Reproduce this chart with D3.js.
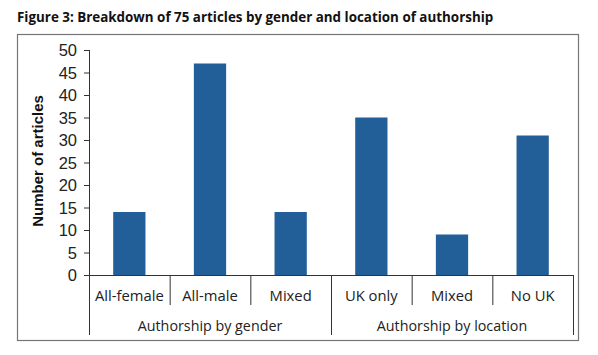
<!DOCTYPE html>
<html><head><meta charset="utf-8">
<script src="https://cdn.jsdelivr.net/npm/d3@7/dist/d3.min.js"></script>
<style>body{margin:0;background:#fff}svg{display:block}</style>
</head><body>
<script>
const categories = ["All-female","All-male","Mixed","UK only","Mixed","No UK"];
const groups = ["Authorship by gender","Authorship by location"];
const groupOf = [0,0,0,1,1,1];
const values = [14,47,14,35,9,31];
const yTicks = [0,5,10,15,20,25,30,35,40,45,50];
const title = "Figure 3: Breakdown of 75 articles by gender and location of authorship";
const yTitle = "Number of articles";

const W=598,H=355;
const svg=d3.select("body").append("svg").attr("width",W).attr("height",H);
const font="'Liberation Sans', Arial, sans-serif";

svg.append("text").attr("x",17).attr("y",22).attr("font-family","'Open Sans', sans-serif")
  .attr("font-weight","bold").attr("font-size",13.4).attr("fill","#111").text(title);

svg.append("rect").attr("x",17.5).attr("y",34.5).attr("width",561).attr("height",306)
  .attr("fill","none").attr("stroke","#767676").attr("stroke-width",1.2);

const x0=89,x1=573,y0=275,y1=50;
const x=d3.scaleBand().domain(d3.range(categories.length)).range([x0,x1]).paddingInner(0).paddingOuter(0);
const y=d3.scaleLinear().domain([0,50]).range([y0,y1]);
const bw=x.bandwidth()*0.4;

svg.selectAll("rect.bar").data(values).enter().append("rect").attr("class","bar")
  .attr("x",(d,i)=>x(i)+x.bandwidth()/2-bw/2).attr("width",bw)
  .attr("y",d=>y(d)).attr("height",d=>y(0)-y(d)).attr("fill","#225E98");

const ax=svg.append("g").attr("transform",`translate(${x0},0)`)
  .call(d3.axisLeft(y).tickValues(yTicks).tickSize(5).tickPadding(7));
ax.select(".domain").remove();
ax.selectAll("line").attr("stroke","#333");
ax.selectAll("text").attr("font-family",font).attr("font-size",16.5).attr("fill","#222").attr("dy","0.35em");
const lc="#333";
svg.append("line").attr("x1",x0+0.5).attr("x2",x0+0.5).attr("y1",y1).attr("y2",335).attr("stroke",lc);
svg.append("line").attr("x1",x0).attr("x2",x1).attr("y1",y0+0.5).attr("y2",y0+0.5).attr("stroke",lc);
for(let i=1;i<=categories.length;i++){
  const xx=(i<categories.length?x(i):x1)+0.5;
  const isGroupEnd = i===categories.length || groupOf[i]!==groupOf[i-1];
  svg.append("line").attr("x1",xx).attr("x2",xx).attr("y1",y0).attr("y2",isGroupEnd?335:305).attr("stroke",lc);
}
svg.selectAll("text.cat").data(categories).enter().append("text").attr("class","cat")
  .attr("x",(d,i)=>x(i)+x.bandwidth()/2).attr("y",301).attr("text-anchor","middle")
  .attr("font-family","'Open Sans', sans-serif").attr("font-size",14.8).attr("fill","#222").text(d=>d);
groups.forEach((g,gi)=>{
  const idx=d3.range(categories.length).filter(i=>groupOf[i]===gi);
  const cx=(x(idx[0])+x(idx[idx.length-1])+x.bandwidth())/2;
  svg.append("text").attr("x",cx).attr("y",331).attr("text-anchor","middle")
    .attr("font-family","'Open Sans', sans-serif").attr("font-size",14.3).attr("fill","#222").text(g);
});
svg.append("text").attr("transform","translate(43,161) rotate(-90)").attr("text-anchor","middle")
  .attr("font-family",font).attr("font-weight","bold").attr("font-size",15).attr("fill","#111").text(yTitle);
</script>
</body></html>
